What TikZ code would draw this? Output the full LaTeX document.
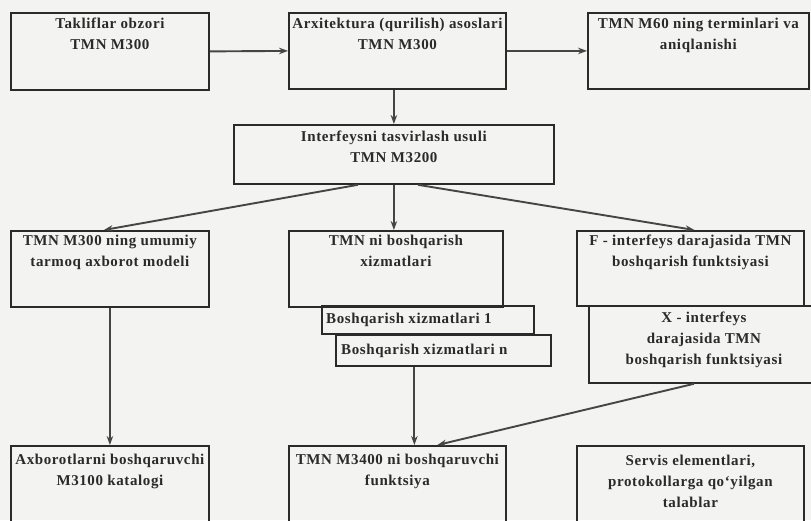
\documentclass[tikz,border=0pt]{standalone}
\usepackage{fontspec}
\setmainfont{Liberation Serif}
\newfontfamily\boxfont[LetterSpace=4]{Liberation Serif}
\usetikzlibrary{arrows.meta,calc}
\definecolor{paper}{HTML}{F3F3F1}
\definecolor{ink}{HTML}{2A2A2A}
\definecolor{wire}{HTML}{454545}
\begin{document}
\begin{tikzpicture}[x=1pt,y=-1pt,
  box/.style={draw=ink, line width=1.8pt, rectangle, inner sep=0pt, anchor=north west},
  lbl/.style={font=\boxfont\bfseries\fontsize{15}{21}\selectfont, text=ink, align=center, inner sep=0pt, anchor=north},
  sublbl/.style={font=\boxfont\bfseries\fontsize{15}{18}\selectfont, text=ink, inner sep=0pt, anchor=west},
  flow/.style={draw=wire, line width=1.9pt, -{Stealth[length=9pt,width=6.5pt]}}]
  % page
  \fill[paper] (0,0) rectangle (811,520);
  \useasboundingbox (0,0) rectangle (811,520);
  \clip (0,0) rectangle (811,520);

  % top row
  \node[box, minimum width=198pt, minimum height=77pt] (A) at (10,12) {};
  \node[box, minimum width=217pt, minimum height=76pt] (B) at (288,12) {};
  \node[box, minimum width=221pt, minimum height=76pt] (C) at (587,12) {};
  \node[lbl] (At) at ([yshift=-6pt]A.north) {Takliflar obzori\\TMN M300};
  \node[lbl] (Bt) at ([yshift=-6pt]B.north) {Arxitektura (qurilish) asoslari\\TMN M300};
  \node[lbl] (Ct) at ([yshift=-6pt]C.north) {TMN M60 ning terminlari va\\aniqlanishi};

  % interface description
  \node[box, minimum width=320pt, minimum height=59pt] (M) at (233,124) {};
  \node[lbl] (Mt) at ([yshift=-7pt]M.north) {Interfeysni tasvirlash usuli\\TMN M3200};

  % middle row
  \node[box, minimum width=198pt, minimum height=76pt] (D) at (10,230) {};
  \node[box, minimum width=214pt, minimum height=76pt] (E) at (288,230) {};
  \node[box, minimum width=227pt, minimum height=75pt] (F) at (576,230) {};
  \node[lbl] (Dt) at ([yshift=-5pt]D.north) {TMN M300 ning umumiy\\tarmoq axborot modeli};
  \node[lbl] (Et) at ([yshift=-5pt]E.north) {TMN ni boshqarish\\xizmatlari};
  \node[lbl] (Ft) at ([yshift=-5pt]F.north) {F - interfeys darajasida TMN\\boshqarish funktsiyasi};

  % management service entries
  \node[box, minimum width=212pt, minimum height=28pt] (S1) at (321,305) {};
  \node[box, minimum width=215pt, minimum height=31pt] (Sn) at (335,334) {};
  \node[sublbl] (S1t) at ([xshift=5pt]S1.west) {Boshqarish xizmatlari 1};
  \node[sublbl] (Snt) at ([xshift=6pt]Sn.west) {Boshqarish xizmatlari n};

  % X interface
  \node[box, minimum width=230pt, minimum height=77pt] (X) at (588,305) {};
  \node[lbl] (Xt) at ([yshift=-7pt]X.north) {X - interfeys\\darajasida TMN\\boshqarish funktsiyasi};

  % bottom row
  \node[box, minimum width=198pt, minimum height=90pt] (G) at (10,445) {};
  \node[box, minimum width=217pt, minimum height=90pt] (H) at (288,445) {};
  \node[box, minimum width=227pt, minimum height=90pt] (I) at (576,445) {};
  \node[lbl] (Gt) at ([yshift=-9pt]G.north) {Axborotlarni boshqaruvchi\\M3100 katalogi};
  \node[lbl] (Ht) at ([yshift=-9pt]H.north) {TMN M3400 ni boshqaruvchi\\funktsiya};
  \node[lbl] (It) at ([yshift=-10pt]I.north) {Servis elementlari,\\protokollarga qo‘yilgan\\talablar};

  % connectors
  \draw[flow] (A.east) -- (B.west);
  \draw[flow] (B.east) -- (C.west);
  \draw[flow] (M.north |- B.south) -- (M.north);
  \draw[flow] ([xshift=-36pt]M.south) -- ([xshift=-6pt]D.north);
  \draw[flow] (M.south) -- (M.south |- E.north);
  \draw[flow] ([xshift=24pt]M.south) -- ([xshift=4pt]F.north);
  \draw[flow] (D.south) -- (G.north);
  \draw[flow] ([xshift=-29pt]Sn.south) -- ([xshift=-29pt]Sn.south |- H.north);
  \draw[flow] ([xshift=-10pt]X.south) -- ([xshift=40pt]H.north);
\end{tikzpicture}
\end{document}
